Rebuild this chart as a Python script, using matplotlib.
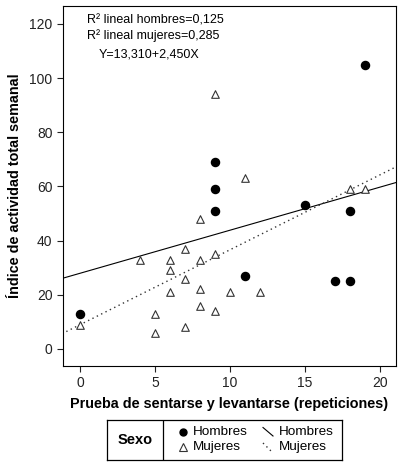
import numpy as np
import matplotlib
matplotlib.use("Agg")
import matplotlib.pyplot as plt

plt.rcParams['font.family'] = ['Liberation Sans', 'DejaVu Sans']

# hombres (puntos negros)
x_h = [0, 9, 9, 9, 11, 15, 17, 18, 18, 19]
y_h = [13, 69, 59, 51, 27, 53, 25, 51, 25, 105]
# mujeres (triangulos)
x_m = [0, 4, 5, 5, 6, 6, 6, 7, 7, 7, 8, 8, 8, 8, 9, 9, 9, 10, 11, 12, 18, 19]
y_m = [9, 33, 13, 6, 33, 29, 21, 37, 26, 8, 48, 33, 22, 16, 94, 35, 14, 21, 63, 21, 59, 59]

xticks = [0, 5, 10, 15, 20]
yticks = [0, 20, 40, 60, 80, 100, 120]
anot = ["R\u00b2 lineal hombres=0,125", "R\u00b2 lineal mujeres=0,285", "Y=13,310+2,450X"]

fig = plt.figure(figsize=(4.03, 4.66), dpi=100)
ax = fig.add_axes([63/403, 100/466, 333/403, 360/466])

ax.scatter(x_h, y_h, s=34, c='black', marker='o', zorder=3)
ax.scatter(x_m, y_m, s=30, facecolors='white', edgecolors='#333333', marker='^', linewidths=0.8, zorder=3)

# rectas de regresion calculadas de los datos
xx = np.array([-1.2, 21.2])
bh = np.polyfit(x_h, y_h, 1)
bm = np.polyfit(x_m, y_m, 1)
ax.plot(xx, np.polyval(bh, xx), color='black', lw=0.8)
ax.plot(xx, np.polyval(bm, xx), color='#333333', lw=1.0, linestyle=(0, (1, 2.5)))

ax.set_xlim(-1.13, 21.07)
ax.set_ylim(-6.3, 126.6)
ax.set_xticks(xticks)
ax.set_yticks(yticks)
ax.tick_params(direction='out', length=4, width=0.8, labelsize=10, colors='#222222')
for s in ax.spines.values():
    s.set_linewidth(0.8)

ax.set_xlabel("Prueba de sentarse y levantarse (repeticiones)", fontsize=10.4, fontweight='bold', labelpad=5)
ax.set_ylabel("\u00cdndice de actividad total semanal", fontsize=10.4, fontweight='bold', labelpad=5)

ax.text(0.5, 123.3, anot[0], fontsize=9.0, va='top', ha='left')
ax.text(0.5, 118.0, anot[1], fontsize=9.0, va='top', ha='left')
ax.text(1.27, 111.0, anot[2], fontsize=9.0, va='top', ha='left')

# leyenda dibujada a mano
lg = fig.add_axes([107/403, 6/466, 235/403, 40/466])
lg.set_xlim(0, 235)
lg.set_ylim(40, 0)
lg.set_xticks([])
lg.set_yticks([])
for s in lg.spines.values():
    s.set_linewidth(0.9)
lg.axvline(56, color='black', lw=0.9)
lg.text(28, 20, "Sexo", fontsize=10.5, fontweight='bold', ha='center', va='center')
lg.plot([75.5], [11.7], 'o', color='black', ms=5)
lg.plot([75.5], [27.3], '^', mfc='white', mec='#333333', ms=5.5, mew=0.8)
lg.text(86, 11.7, "Hombres", fontsize=9.7, va='center')
lg.text(86, 27.3, "Mujeres", fontsize=9.7, va='center')
lg.plot([156, 166], [7.5, 16], color='black', lw=0.8)
lg.plot([156, 165], [23, 32], color='#333333', lw=1.0, linestyle=(0, (1, 2.5)))
lg.text(172, 11.7, "Hombres", fontsize=9.7, va='center')
lg.text(172, 27.3, "Mujeres", fontsize=9.7, va='center')

fig.savefig("out.png", dpi=100)
